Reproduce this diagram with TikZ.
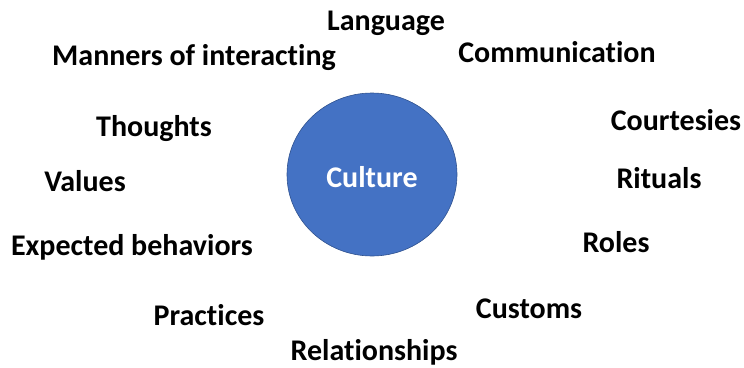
\documentclass[tikz,border=0pt]{standalone}
\usepackage{fontspec}
\setmainfont{Carlito}[Ligatures={NoCommon}]
\usetikzlibrary{shapes.geometric}
\definecolor{cblue}{HTML}{4472C4}
\definecolor{cedge}{HTML}{2F528F}
\begin{document}
\begin{tikzpicture}[x=1pt,y=-1pt,
  word/.style={font=\bfseries\fontsize{30}{36}\selectfont, text=black, inner sep=0pt}]
\useasboundingbox (0,0) rectangle (744,367);
\node[ellipse, fill=cblue, draw=cedge, line width=0.6pt, minimum width=170pt, minimum height=163pt, inner sep=0pt] (c) at (372,174.5) {};
\node[word, text=white] (culture) at (372,177) {Culture};
\node[word] (w1) at (386,23) {Language};
\node[word] (w2) at (194,58) {Manners of interacting};
\node[word] (w3) at (557,52.5) {Communication};
\node[word] (w4) at (676,120) {Courtesies};
\node[word] (w5) at (154,129) {Thoughts};
\node[word] (w6) at (85,181) {Values};
\node[word] (w7) at (659,178) {Rituals};
\node[word] (w8) at (132,247) {Expected behaviors};
\node[word] (w9) at (616,242) {Roles};
\node[word] (w10) at (529,309) {Customs};
\node[word] (w11) at (209,315) {Practices};
\node[word] (w12) at (374,352) {Relationships};
\end{tikzpicture}
\end{document}
